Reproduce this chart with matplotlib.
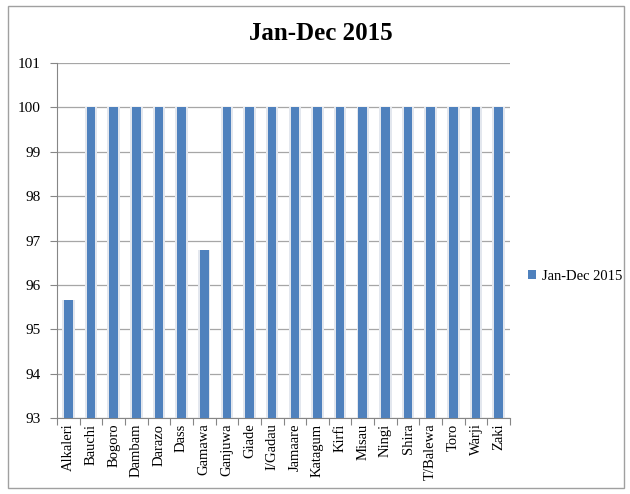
import matplotlib.pyplot as plt
from matplotlib.patches import Rectangle

districts = ['Alkaleri', 'Bauchi', 'Bogoro', 'Dambam', 'Darazo', 'Dass', 'Gamawa',
             'Ganjuwa', 'Giade', 'I/Gadau', 'Jamaare', 'Katagum', 'Kirfi', 'Misau',
             'Ningi', 'Shira', 'T/Balewa', 'Toro', 'Warji', 'Zaki']
values = [95.65, 100, 100, 100, 100, 100, 96.78, 100, 100, 100,
          100, 100, 100, 100, 100, 100, 100, 100, 100, 100]
series_name = 'Jan-Dec 2015'

plt.rcParams['font.family'] = ['Liberation Serif', 'DejaVu Serif']

fig = plt.figure(figsize=(6.3, 4.94), dpi=100)
ax = fig.add_axes([0.0905, 0.1538, 0.719, 0.7187])

x = range(len(districts))
# light shadow behind the bars
ax.bar(x, [v - 93 for v in values], bottom=93, width=0.55, color='#e3e7ee', zorder=2)
ax.bar(x, [v - 93 for v in values], bottom=93, width=0.38, color='#4f81bd',
       label=series_name, zorder=3)

ax.set_ylim(93, 101)
ax.set_xlim(-0.5, len(districts) - 0.5)
ax.set_yticks(range(93, 102))
ax.yaxis.grid(True, color='#a6a6a6', linewidth=0.9, zorder=0)
ax.set_axisbelow(True)

ax.set_xticks([i - 0.5 for i in range(len(districts) + 1)], minor=False)
ax.set_xticklabels([])
ax.set_xticks(list(x), minor=True)
ax.set_xticklabels(districts, minor=True, rotation=90, fontsize=10.5)
ax.tick_params(axis='x', which='minor', length=0, pad=4)
ax.tick_params(axis='x', which='major', length=5, color='#868686', direction='out')
ax.tick_params(axis='y', length=5, color='#868686', labelsize=11, pad=7)

for s in ['top', 'right']:
    ax.spines[s].set_visible(False)
ax.spines['left'].set_color('#868686')
ax.spines['bottom'].set_color('#868686')

fig.text(0.51, 0.933, series_name, ha='center', va='center', fontsize=18, fontweight='bold')

ax.legend(loc='center left', bbox_to_anchor=(1.01, 0.4), frameon=False, fontsize=10.5,
          handlelength=0.6, handleheight=0.6, handletextpad=0.4)

fig.patches.append(Rectangle((0.012, 0.012), 0.978, 0.976, transform=fig.transFigure,
                             fill=False, edgecolor='#a0a0a0', linewidth=1))

fig.savefig('out.png', dpi=100)
